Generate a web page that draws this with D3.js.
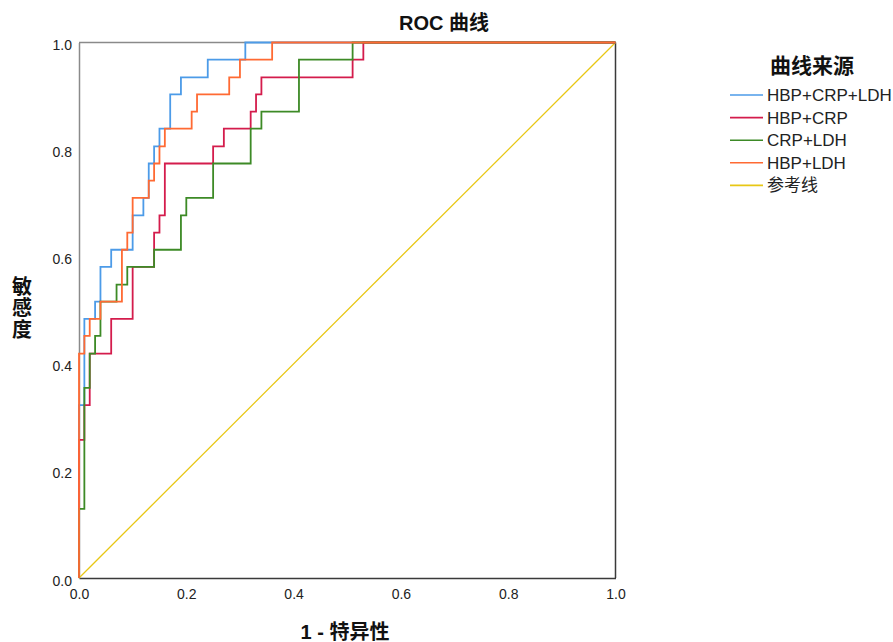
<!DOCTYPE html>
<html>
<head>
<meta charset="utf-8">
<script src="https://cdn.jsdelivr.net/npm/d3@7"></script>
<style>
  body { margin: 0; background: #fff; }
  svg { display: block; }
</style>
</head>
<body>
<svg id="chart" width="893" height="642"></svg>
<script>
// ---- data ----
const seriesNames = ["HBP+CRP+LDH", "HBP+CRP", "CRP+LDH", "HBP+LDH", "参考线"];
const seriesColors = ["#4c9be8", "#d41c4c", "#3d8a26", "#ff6a33", "#e8c714"];

const fprHbpCrpLdh = [0, 0, 0.01, 0.01, 0.03, 0.03, 0.04, 0.04, 0.06, 0.06, 0.10, 0.10, 0.12, 0.12, 0.13, 0.13, 0.14, 0.14, 0.15, 0.15, 0.17, 0.17, 0.19, 0.19, 0.24, 0.24, 0.31, 0.31, 1];
const tprHbpCrpLdh = [0, 0.323, 0.323, 0.484, 0.484, 0.516, 0.516, 0.581, 0.581, 0.613, 0.613, 0.677, 0.677, 0.710, 0.710, 0.774, 0.774, 0.806, 0.806, 0.839, 0.839, 0.903, 0.903, 0.935, 0.935, 0.968, 0.968, 1, 1];

const fprHbpCrp = [0, 0, 0.01, 0.01, 0.02, 0.02, 0.06, 0.06, 0.10, 0.10, 0.14, 0.14, 0.15, 0.15, 0.16, 0.16, 0.25, 0.25, 0.27, 0.27, 0.32, 0.32, 0.33, 0.33, 0.34, 0.34, 0.51, 0.51, 0.53, 0.53, 1];
const tprHbpCrp = [0, 0.258, 0.258, 0.323, 0.323, 0.419, 0.419, 0.484, 0.484, 0.581, 0.581, 0.645, 0.645, 0.677, 0.677, 0.774, 0.774, 0.806, 0.806, 0.839, 0.839, 0.871, 0.871, 0.903, 0.903, 0.935, 0.935, 0.968, 0.968, 1, 1];

const fprCrpLdh = [0, 0, 0.01, 0.01, 0.02, 0.02, 0.03, 0.03, 0.04, 0.04, 0.07, 0.07, 0.09, 0.09, 0.14, 0.14, 0.19, 0.19, 0.20, 0.20, 0.25, 0.25, 0.32, 0.32, 0.34, 0.34, 0.41, 0.41, 0.51, 0.51, 1];
const tprCrpLdh = [0, 0.129, 0.129, 0.355, 0.355, 0.419, 0.419, 0.452, 0.452, 0.516, 0.516, 0.548, 0.548, 0.581, 0.581, 0.613, 0.613, 0.677, 0.677, 0.710, 0.710, 0.774, 0.774, 0.839, 0.839, 0.871, 0.871, 0.968, 0.968, 1, 1];

const fprHbpLdh = [0, 0, 0.01, 0.01, 0.02, 0.02, 0.04, 0.04, 0.08, 0.08, 0.09, 0.09, 0.10, 0.10, 0.13, 0.13, 0.14, 0.14, 0.15, 0.15, 0.16, 0.16, 0.21, 0.21, 0.22, 0.22, 0.28, 0.28, 0.30, 0.30, 0.36, 0.36, 1];
const tprHbpLdh = [0, 0.419, 0.419, 0.452, 0.452, 0.484, 0.484, 0.516, 0.516, 0.613, 0.613, 0.645, 0.645, 0.710, 0.710, 0.742, 0.742, 0.774, 0.774, 0.806, 0.806, 0.839, 0.839, 0.871, 0.871, 0.903, 0.903, 0.935, 0.935, 0.968, 0.968, 1, 1];

const fprReference = [0, 1];
const tprReference = [0, 1];

const axisTicks = [0, 0.2, 0.4, 0.6, 0.8, 1.0];

const chartTitle = "ROC 曲线";
const xTitle = "1 - 特异性";
const yTitle = "敏感度";
const legendTitle = "曲线来源";

// ---- layout ----
const svg = d3.select("#chart");
const plotLeft = 79, plotRight = 615.5, plotTop = 42.5, plotBottom = 578;
const x = d3.scaleLinear().domain([0, 1]).range([plotLeft, plotRight]);
const y = d3.scaleLinear().domain([0, 1]).range([plotBottom, plotTop]);

const latin = "'Liberation Sans', Arial, 'Noto Sans CJK SC', sans-serif";

// frame
svg.append("line").attr("x1", plotLeft).attr("x2", plotRight).attr("y1", plotTop).attr("y2", plotTop)
  .attr("stroke", "#8a8a8a").attr("stroke-width", 1.5);
svg.append("line").attr("x1", plotRight).attr("x2", plotRight).attr("y1", plotTop).attr("y2", plotBottom)
  .attr("stroke", "#3a3a3a").attr("stroke-width", 1.5);

// axes
const xAxis = d3.axisBottom(x).tickValues(axisTicks).tickFormat(d3.format(".1f")).tickSize(0).tickPadding(11);
const yAxis = d3.axisLeft(y).tickValues(axisTicks).tickFormat(d3.format(".1f")).tickSize(0).tickPadding(7);

const gx = svg.append("g").attr("transform", `translate(0,${plotBottom})`).call(xAxis);
gx.select(".domain").attr("stroke", "#3a3a3a").attr("stroke-width", 1.5);
gx.selectAll("text").attr("font-family", latin).attr("font-size", 14).attr("fill", "#222");

const gy = svg.append("g").attr("transform", `translate(${plotLeft},0)`).call(yAxis);
gy.select(".domain").attr("stroke", "#8a8a8a").attr("stroke-width", 1.5);
gy.selectAll("text").attr("font-family", latin).attr("font-size", 14).attr("fill", "#222").attr("dy", "0.5em");

// curves
const series = [
  { fpr: fprHbpCrpLdh, tpr: tprHbpCrpLdh },
  { fpr: fprHbpCrp, tpr: tprHbpCrp },
  { fpr: fprCrpLdh, tpr: tprCrpLdh },
  { fpr: fprHbpLdh, tpr: tprHbpLdh },
  { fpr: fprReference, tpr: tprReference }
];

const line = d3.line().x(d => x(d[0])).y(d => y(d[1]));

const drawOrder = [4, 0, 1, 2, 3];
drawOrder.forEach(i => {
  const s = series[i];
  const pts = s.fpr.map((f, j) => [f, s.tpr[j]]);
  svg.append("path")
    .attr("d", line(pts))
    .attr("fill", "none")
    .attr("stroke", seriesColors[i])
    .attr("stroke-width", i === 4 ? 1.3 : 1.8)
    .attr("stroke-linejoin", "miter");
});

// titles
svg.append("text").attr("x", 444).attr("y", 30).attr("text-anchor", "middle")
  .attr("font-family", latin).attr("font-weight", "bold").attr("font-size", 20).attr("fill", "#111")
  .text(chartTitle);

svg.append("text").attr("x", 345).attr("y", 639).attr("text-anchor", "middle")
  .attr("font-family", latin).attr("font-weight", "bold").attr("font-size", 20).attr("fill", "#111")
  .text(xTitle);

svg.append("text").attr("x", 22).attr("y", 276)
  .style("writing-mode", "vertical-rl")
  .attr("letter-spacing", 1.5)
  .attr("font-family", "'Noto Sans CJK SC', sans-serif").attr("font-weight", "bold")
  .attr("font-size", 20).attr("fill", "#111")
  .text(yTitle);

// legend
svg.append("text").attr("x", 812).attr("y", 73).attr("text-anchor", "middle")
  .attr("font-family", latin).attr("font-weight", "bold").attr("font-size", 21).attr("fill", "#111")
  .text(legendTitle);

seriesNames.forEach((name, i) => {
  const cy = 95 + i * 22.6;
  svg.append("line").attr("x1", 730).attr("x2", 763).attr("y1", cy).attr("y2", cy)
    .attr("stroke", seriesColors[i]).attr("stroke-width", 1.6);
  svg.append("text").attr("x", 767).attr("y", cy + 6)
    .attr("font-family", latin).attr("font-size", 17).attr("fill", "#222")
    .text(name);
});
</script>
</body>
</html>
